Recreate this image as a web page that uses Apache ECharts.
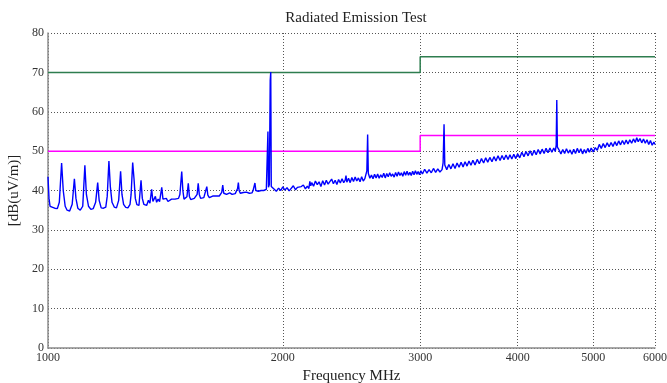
<!DOCTYPE html>
<html>
<head>
<meta charset="utf-8">
<script src="https://cdn.jsdelivr.net/npm/echarts@6/dist/echarts.min.js"></script>
<style>
  html, body { margin: 0; padding: 0; background: #fff; }
  #chart { width: 667px; height: 383px; }
</style>
</head>
<body>
<div id="chart"></div>
<script>
// frequency ticks (MHz)
const xTicks = [1000, 2000, 3000, 4000, 5000, 6000];

// limit lines: [MHz, dB(uV/m)]
const limitFreq = [1000, 3000, 3000, 6000];
const peakLimit = [70, 70, 74, 74];
const avgLimit = [50, 50, 54, 54];

// measured trace [MHz, dB(uV/m)]
const traceLow = [
  [1000, 43.5], [1003, 38], [1006, 36], [1012, 35.8], [1020, 35.5], [1028, 35.4], [1034, 37],
  [1041, 47], [1046, 40], [1052, 36], [1058, 35], [1066, 34.8], [1074, 36.5], [1081, 43],
  [1086, 38], [1092, 35.5], [1100, 35], [1108, 36], [1115, 46.4], [1120, 39], [1127, 36],
  [1135, 35.2], [1143, 35.4], [1151, 37], [1158, 42], [1163, 37.5], [1170, 35.6], [1178, 35.5],
  [1186, 35.8], [1191, 38.5], [1197, 47.5], [1202, 41], [1208, 37], [1216, 35.8], [1224, 35.6],
  [1232, 37.5], [1239, 44.9], [1244, 39], [1250, 36.5], [1258, 35.7], [1266, 35.6], [1274, 36.5],
  [1278, 39], [1284, 47.1], [1289, 43], [1294, 38], [1300, 36.4], [1308, 36.2], [1316, 42.6],
  [1321, 38], [1327, 36.5], [1333, 37], [1338, 36.2], [1345, 37.5], [1351, 36.8], [1358, 40.3],
  [1363, 37.2], [1368, 36.8], [1373, 38.5], [1378, 37], [1384, 37.8], [1390, 37.2], [1399, 40.8],
  [1404, 37.8], [1410, 37.5], [1418, 38], [1425, 37.2], [1432, 37.6], [1440, 37.8], [1448, 37.4],
  [1455, 37.8], [1463, 38.2], [1470, 38], [1476, 39], [1484, 44.8], [1489, 40], [1494, 37.8],
  [1500, 38], [1507, 38.4], [1513, 41.8], [1518, 38.5], [1524, 37.7], [1532, 37.8], [1540, 38],
  [1548, 38.3], [1553, 39], [1558, 41.8], [1563, 39], [1569, 38], [1576, 37.9], [1584, 38.2],
  [1591, 38.6], [1598, 41], [1603, 38.8], [1610, 38.2], [1618, 38.4], [1626, 38.6], [1634, 38.4],
  [1642, 38.6], [1650, 38.8], [1658, 38.6], [1666, 39], [1670, 39.5], [1675, 41.4], [1680, 39.3],
  [1686, 38.8], [1694, 39], [1702, 38.9], [1710, 39.4], [1716, 39.8], [1722, 39], [1730, 39.1],
  [1738, 39.2], [1744, 39.7], [1750, 40.5], [1754, 42], [1758, 40], [1764, 39.3], [1772, 39.2],
  [1780, 39.5], [1788, 39.3], [1796, 39.6], [1802, 39.4], [1806, 40], [1812, 39.3], [1818, 39.5],
  [1826, 39.4], [1832, 40], [1836, 40.5], [1842, 41.9], [1847, 40], [1853, 39.6], [1860, 39.8],
  [1868, 39.5], [1876, 40], [1884, 39.8], [1890, 40], [1898, 39.7], [1905, 40.3], [1910, 40],
  [1914, 55], [1917, 40.8], [1922, 41.5], [1927, 68], [1930, 70.1], [1933, 41], [1938, 40.6]
];

const traceMid = [
  [1950, 40.3], [1962, 39.8], [1975, 40.6], [1988, 40.0], [2000, 40.9], [2012, 40.1], [2025, 40.7],
  [2038, 39.9], [2050, 40.4], [2063, 41.2], [2076, 40.2], [2088, 40.8], [2100, 40.3], [2112, 41.0],
  [2125, 41.4], [2138, 40.4], [2150, 41.1], [2160, 40.5], [2166, 42.3], [2172, 41.2], [2178, 42.0],
  [2190, 41.1], [2202, 42.4], [2214, 41.5], [2226, 42.2], [2238, 41.0], [2250, 42.5], [2262, 41.4],
  [2274, 42.6], [2286, 41.6], [2298, 42.0], [2310, 42.9], [2322, 41.7], [2334, 42.6], [2346, 41.5],
  [2358, 42.8], [2370, 41.9], [2382, 43.0], [2394, 42.0], [2404, 42.6], [2410, 43.8], [2416, 42.1],
  [2428, 43.1], [2440, 42.0], [2452, 43.3], [2464, 42.3], [2476, 43.4], [2488, 42.4], [2500, 43.2],
  [2512, 42.2], [2524, 43.5], [2536, 42.4], [2548, 43.0], [2558, 43.4], [2563, 45], [2569, 54.2],
  [2574, 44.4], [2586, 43.1], [2598, 43.9], [2610, 43.0], [2622, 44.1], [2634, 43.2], [2646, 44.2],
  [2658, 43.1], [2670, 44.0], [2682, 43.3], [2694, 44.4], [2706, 43.2], [2718, 44.3], [2730, 43.5],
  [2742, 44.5], [2754, 43.6], [2766, 44.2], [2778, 43.4], [2790, 44.6], [2802, 43.6], [2814, 44.7],
  [2826, 43.8], [2838, 44.5], [2850, 43.6], [2862, 44.8], [2874, 43.9], [2886, 44.9], [2898, 43.9],
  [2910, 44.6], [2922, 43.8], [2934, 44.9], [2946, 44.0], [2958, 45.0], [2970, 44.1], [2982, 44.8],
  [2994, 44.0]
];

const traceHigh = [
  [3006, 45.0], [3020, 44.2], [3040, 45.4], [3060, 44.4], [3080, 45.3], [3100, 44.5], [3120, 45.6],
  [3140, 44.6], [3160, 45.5], [3180, 44.7], [3200, 45.3], [3210, 47], [3219, 56.8], [3226, 46.5],
  [3245, 45.3], [3265, 46.6], [3285, 45.5], [3305, 46.8], [3325, 45.6], [3345, 47.0], [3365, 45.9],
  [3385, 47.2], [3405, 46.0], [3425, 47.3], [3445, 46.2], [3465, 47.5], [3485, 46.4], [3505, 47.7],
  [3527, 46.5], [3550, 47.9], [3572, 46.8], [3595, 48.1], [3618, 47.0], [3640, 48.3], [3662, 47.2],
  [3685, 48.4], [3708, 47.3], [3730, 48.6], [3752, 47.5], [3775, 48.8], [3798, 47.6], [3820, 48.9],
  [3842, 47.8], [3865, 49.0], [3888, 47.9], [3910, 49.1], [3932, 48.0], [3955, 49.2], [3978, 48.1],
  [4000, 49.3], [4025, 48.3], [4050, 49.7], [4075, 48.6], [4100, 49.9], [4125, 48.8], [4150, 50.1],
  [4175, 48.9], [4200, 50.2], [4225, 49.1], [4250, 50.4], [4275, 49.3], [4300, 50.5], [4325, 49.4],
  [4350, 50.7], [4375, 49.6], [4400, 50.8], [4425, 49.7], [4450, 50.8], [4470, 49.9], [4482, 51.5],
  [4490, 63.0], [4498, 51.0], [4520, 50.3], [4545, 49.3], [4570, 50.4], [4595, 49.4], [4620, 50.6],
  [4645, 49.5], [4670, 50.3], [4695, 49.2], [4720, 50.5], [4745, 49.4], [4770, 50.7], [4795, 49.6],
  [4820, 50.6], [4845, 49.3], [4870, 50.4], [4895, 49.5], [4920, 50.7], [4945, 49.7], [4970, 50.8],
  [5000, 49.8], [5030, 50.9], [5060, 50.2], [5090, 51.7], [5120, 50.7], [5150, 51.9], [5180, 50.9],
  [5210, 52.1], [5240, 51.1], [5270, 52.2], [5300, 51.2], [5330, 52.4], [5360, 51.4], [5390, 52.6],
  [5420, 51.6], [5450, 52.7], [5480, 51.7], [5510, 52.8], [5540, 51.8], [5570, 52.9], [5600, 52.0],
  [5630, 53.1], [5660, 52.2], [5685, 53.4], [5710, 52.4], [5740, 53.2], [5770, 52.1], [5800, 53.1],
  [5830, 52.0], [5860, 52.9], [5890, 51.7], [5920, 52.7], [5950, 51.5], [5980, 52.3], [6000, 51.7]
];

const trace = traceLow.concat(traceMid, traceHigh);
const serif = "Liberation Serif";

var chart = echarts.init(document.getElementById("chart"));
chart.setOption({
  animation: false,
  title: {
    text: "Radiated Emission Test",
    left: 351, top: 6, textAlign: "center",
    textStyle: { fontFamily: serif, fontSize: 15, fontWeight: "normal", color: "#222" }
  },
  grid: { left: 48, right: 12, top: 33, bottom: 35, outerBoundsMode: "none", containLabel: false },
  xAxis: {
    type: "log", logBase: 10, min: 1000, max: 6000,
    name: "Frequency MHz", nameLocation: "middle", nameGap: 21,
    nameTextStyle: { fontFamily: serif, fontSize: 15, color: "#222" },
    axisLine: { lineStyle: { color: "#8c8c8c", width: 1.5 } },
    axisTick: { show: false, customValues: xTicks },
    axisLabel: {
      customValues: xTicks, fontFamily: serif, fontSize: 12, color: "#333", margin: 4,
      formatter: function (v) { return String(Math.round(v)); }
    },
    splitLine: { show: true, lineStyle: { color: "#555", type: [1, 2], width: 1 } },
    minorSplitLine: { show: false }
  },
  yAxis: {
    type: "value", min: 0, max: 80, interval: 10,
    name: "[dB(uV/m)]", nameLocation: "middle", nameGap: 24, nameRotate: 90,
    nameTextStyle: { fontFamily: serif, fontSize: 15, color: "#222" },
    axisLine: { show: true, lineStyle: { color: "#8c8c8c", width: 1.5 } },
    axisTick: { show: false },
    axisLabel: { fontFamily: serif, fontSize: 12, color: "#333", margin: 4 },
    splitLine: { show: true, lineStyle: { color: "#555", type: [1, 2], width: 1 } }
  },
  series: [
    {
      name: "peak limit", type: "line", symbol: "none",
      data: limitFreq.map((f, i) => [f, peakLimit[i]]),
      lineStyle: { color: "#2e7d4f", width: 1.5 }
    },
    {
      name: "avg limit", type: "line", symbol: "none",
      data: limitFreq.map((f, i) => [f, avgLimit[i]]),
      lineStyle: { color: "#ff00ff", width: 1.5 }
    },
    {
      name: "measured", type: "line", symbol: "none",
      data: trace,
      lineStyle: { color: "#0000ff", width: 1.4 }
    }
  ]
});
</script>
</body>
</html>
